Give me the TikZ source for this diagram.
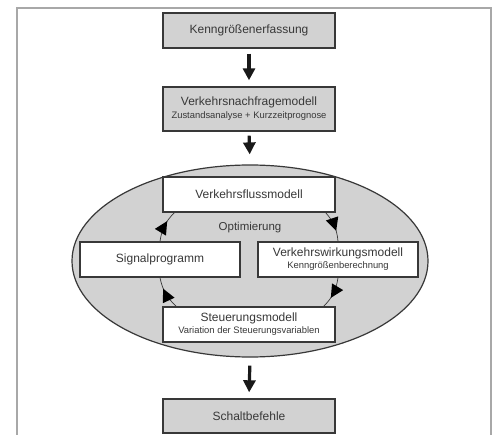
\documentclass[tikz,border=0pt]{standalone}
\usepackage{fontspec}
\setmainfont{Liberation Sans}
\usetikzlibrary{arrows.meta,decorations.markings,shapes.geometric,calc}
\definecolor{boxgray}{HTML}{D2D2D2}
\definecolor{txt}{HTML}{383838}
\definecolor{framegray}{HTML}{A8A8A8}
\begin{document}
\begin{tikzpicture}[x=1pt,y=-1pt,
  graybox/.style={draw=txt,line width=1.4pt,fill=boxgray,minimum width=172pt,minimum height=35pt,inner sep=0pt,align=center,text=txt,font=\fontsize{12}{13}\selectfont},
  whitebox/.style={draw=txt,line width=1.4pt,fill=white,minimum width=172pt,minimum height=35pt,inner sep=0pt,align=center,text=txt,font=\fontsize{12}{13}\selectfont},
  bigarrow/.style={line width=3.2pt,draw=black!90,-{Triangle[width=12pt,length=12pt]}},
  cyc/.style={draw=txt,line width=0.7pt,bend left=18,postaction={decorate},
    decoration={markings,mark=at position 0.6 with {\fill[black] (2pt,0) -- (-11pt,6.5pt) -- (-11pt,-6.5pt) -- cycle;}}}
]
\useasboundingbox (0,0) rectangle (502,435);
\fill[white] (0,0) rectangle (502,435);
\draw[framegray,line width=1.5pt] (17,436) -- (17,8) -- (491,8) -- (491,436);

\node[graybox] (k1) at (249,30.5) {Kenngrößenerfassung};
\node[graybox,minimum height=44pt] (k2) at (249,109) {Verkehrsnachfragemodell\\[0pt]{\fontsize{9.4}{11}\selectfont Zustandsanalyse + Kurzzeitprognose}};

\node[draw=txt,line width=1.2pt,fill=boxgray,ellipse,minimum width=356pt,minimum height=192pt,inner sep=0pt] (ell) at (250,261) {};

\node[whitebox] (vf) at (249,194.5) {Verkehrsflussmodell};
\node[whitebox,minimum width=160pt] (sp) at (160,259.5) {Signalprogramm};
\node[whitebox,minimum width=160pt] (vw) at (338,259.5) {Verkehrswirkungsmodell\\[-1pt]{\fontsize{9.4}{11}\selectfont Kenngrößenberechnung}};
\node[whitebox] (sm) at (249,324.5) {Steuerungsmodell\\[-1pt]{\fontsize{9.4}{11}\selectfont Variation der Steuerungsvariablen}};
\node[graybox,minimum height=34pt] (sb) at (249,416) {Schaltbefehle};

\node[text=txt,font=\fontsize{11.5}{13}\selectfont] (opt) at (250,228) {Optimierung};

\coordinate (vfl) at ($(vf.south west)+(12,0)$);
\coordinate (vfr) at ($(vf.south east)+(-10,0)$);
\coordinate (sml) at ($(sm.north west)+(14,0)$);
\coordinate (smr) at ($(sm.north east)+(-12,0)$);

\draw[cyc] (sp.north) to (vfl);
\draw[cyc] (vfr) to (vw.north);
\draw[cyc] (vw.south) to (smr);
\draw[cyc] (sml) to (sp.south);

\draw[bigarrow,shorten <=5pt,shorten >=6pt] (k1.south) -- (k2.north);
\draw[bigarrow,shorten <=4pt,shorten >=10pt] (k2.south) -- (ell.north);
\draw[bigarrow,shorten <=8pt,shorten >=6pt] (ell.south) -- (sb.north);
\end{tikzpicture}
\end{document}
